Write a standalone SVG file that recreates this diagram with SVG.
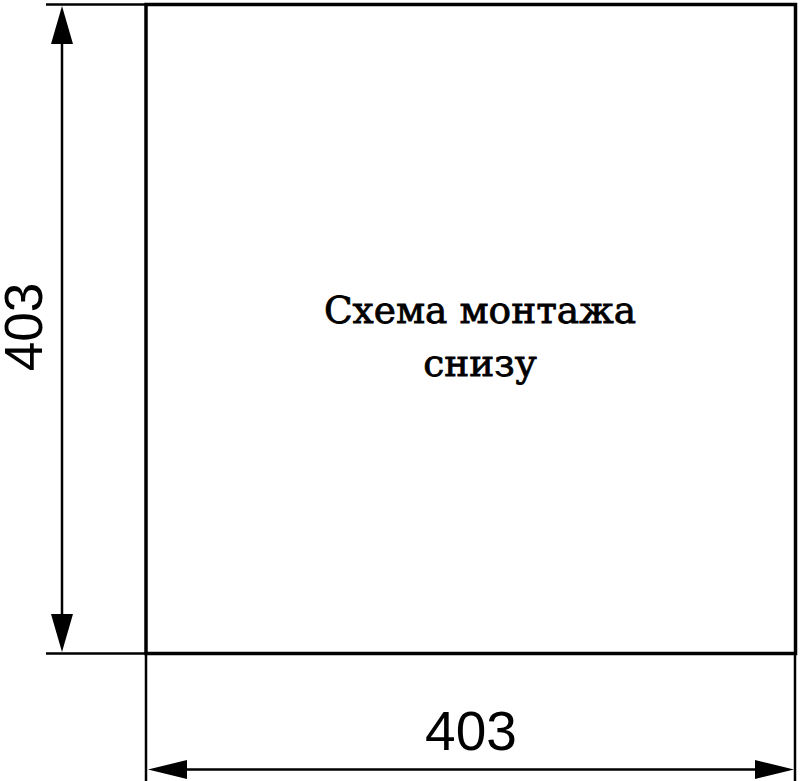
<svg xmlns="http://www.w3.org/2000/svg" width="800" height="781" viewBox="0 0 800 781">
<style>
.thick{stroke:#000;stroke-width:3.5;fill:none}
.thin{stroke:#000;stroke-width:2.5;fill:none}
.dim{font-family:"Liberation Sans",Arial,sans-serif;font-size:55px;fill:#000}
.dimv{font-family:"Liberation Sans",Arial,sans-serif;font-size:53px;fill:#000}
.lbl{font-family:"DejaVu Serif",serif;font-size:37.5px;fill:#000;stroke:#000;stroke-width:0.8}
</style>
<rect width="800" height="781" fill="#fff"/>
<g id="plate">
<rect class="thick" x="146" y="4.5" width="649.5" height="649"/>
</g>
<g id="label">
<text class="lbl" x="480" y="323" text-anchor="middle">Схема монтажа</text>
<text class="lbl" x="480" y="376" text-anchor="middle">снизу</text>
</g>
<g id="connectors">
<line class="thin" x1="46" y1="4.5" x2="146" y2="4.5"/>
<line class="thin" x1="46" y1="653.5" x2="146" y2="653.5"/>
<line class="thin" x1="62" y1="40" x2="62" y2="618"/>
<polygon points="62,6 51,44 73,44" fill="#000"/>
<polygon points="62,652 51,614 73,614" fill="#000"/>
<line class="thin" x1="146" y1="653" x2="146" y2="781"/>
<line class="thin" x1="795" y1="653" x2="795" y2="781"/>
<line class="thin" x1="180" y1="769.5" x2="760" y2="769.5"/>
<polygon points="148,769.5 187,760 187,779" fill="#000"/>
<polygon points="794,769.5 755,760 755,779" fill="#000"/>
</g>
<g id="dims">
<text class="dim" x="471" y="750" text-anchor="middle">403</text>
<text class="dimv" transform="translate(42,327) rotate(-90)" text-anchor="middle">403</text>
</g>
</svg>
